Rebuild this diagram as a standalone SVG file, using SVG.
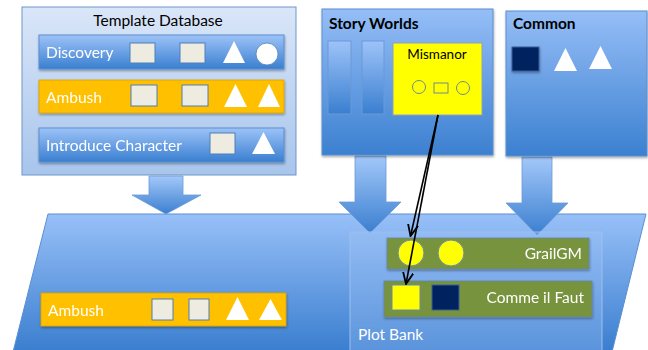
<svg xmlns="http://www.w3.org/2000/svg" width="648" height="350" viewBox="0 0 648 350">
<defs>
<linearGradient id="gBlue" x1="0" y1="0" x2="0" y2="1">
<stop offset="0" stop-color="#9dc3f8"/><stop offset="1" stop-color="#3a7fd0"/>
</linearGradient>
<linearGradient id="gBox" x1="0" y1="0" x2="0" y2="1">
<stop offset="0" stop-color="#95bef7"/><stop offset="1" stop-color="#3c80d0"/>
</linearGradient>
<linearGradient id="gLight" x1="0" y1="0" x2="0" y2="1">
<stop offset="0" stop-color="#dae6f8"/><stop offset="1" stop-color="#a8c5ec"/>
</linearGradient>
<linearGradient id="gBase" x1="0" y1="0" x2="0" y2="1">
<stop offset="0" stop-color="#98c0f8"/><stop offset="1" stop-color="#3a7ecf"/>
</linearGradient>
<linearGradient id="gArrow" x1="0" y1="0" x2="0" y2="1">
<stop offset="0" stop-color="#a3c8f9"/><stop offset="1" stop-color="#3b7fd0"/>
</linearGradient>
<filter id="sh" x="-10%" y="-10%" width="130%" height="140%">
<feDropShadow dx="0.5" dy="1.5" stdDeviation="1" flood-color="#000" flood-opacity="0.35"/>
</filter>
<marker id="ah" viewBox="0 0 10 10" refX="9" refY="5" markerWidth="8" markerHeight="8" orient="auto">
<path d="M0,1 L9,5 L0,9" fill="none" stroke="#000" stroke-width="1.4"/>
</marker>
</defs>
<style>
text{font-family:Lato,"Open Sans","Liberation Sans",sans-serif}
.w{fill:#fff;font-size:15.5px}
.k{fill:#000;font-size:15.5px}
.b{font-weight:bold}
.bar{fill:url(#gBlue);stroke:#5b8fd0;stroke-width:1}
.org{fill:#ffc000;stroke:#d9a400;stroke-width:0.8}
.sq{fill:#eeebe1;stroke:#4f7fb8;stroke-width:1}
.tri{fill:#fff}
.grn{fill:#77933c;stroke:#6a86a8;stroke-width:0.8}
.blk{fill:url(#gArrow);stroke:#6d9ad6;stroke-width:0.8}
.navy{fill:#00205f;stroke:#3a5f9a;stroke-width:1}
.yel{fill:#ffff00;stroke:#6a8ab0;stroke-width:1}
.conn{stroke:#000;stroke-width:1.6;fill:none;marker-end:url(#ah)}
</style>

<g id="plotBase">
<polygon points="48,214 646,214 612,352 13,352" fill="url(#gBase)" stroke="#5b8fd0" stroke-width="1"/>
</g>

<g id="arrows-block">
<path class="blk" d="M149,176 H183 V195 H201 L166,214 L132,195 H149 Z"/>
<path class="blk" d="M355,156 H386 V202 H401 L370,233 L339,202 H355 Z"/>
<path class="blk" d="M522,157 H552 V203 H568 L537,235 L506,203 H522 Z"/>
</g>

<g id="templateDatabase">
<rect x="22" y="7" width="274" height="168" fill="url(#gLight)" stroke="#6f95c8" stroke-width="1"/>
<text class="k" x="158" y="26" text-anchor="middle">Template Database</text>
</g>

<g id="discovery" filter="url(#sh)">
<rect class="bar" x="39" y="35" width="245" height="34"/>
<text class="w" x="46" y="58">Discovery</text>
<rect class="sq" x="130" y="43" width="25" height="20"/>
<rect class="sq" x="180" y="43" width="25" height="20"/>
<polygon class="tri" points="234,41 245,63 223,63"/>
<circle cx="267" cy="54" r="11" fill="#fff" stroke="#4f7fb8" stroke-width="0.8"/>
</g>

<g id="ambushTemplate" filter="url(#sh)">
<rect class="org" x="39" y="80" width="245" height="33"/>
<text class="w" x="46" y="103">Ambush</text>
<rect class="sq" x="131" y="85" width="26" height="21"/>
<rect class="sq" x="182" y="85" width="26" height="21"/>
<polygon class="tri" points="235.5,84 247,107 224,107"/>
<polygon class="tri" points="269,84 280,107 258,107"/>
</g>

<g id="introduceCharacter" filter="url(#sh)">
<rect class="bar" x="39" y="128" width="245" height="34"/>
<text class="w" x="46" y="151">Introduce Character</text>
<rect class="sq" x="210" y="133" width="25" height="21"/>
<polygon class="tri" points="263.5,132 275,154 252,154"/>
</g>

<g id="storyWorlds">
<rect x="322" y="9" width="171" height="146" fill="url(#gBox)" stroke="#5b8fd0" stroke-width="1" filter="url(#sh)"/>
<text class="k b" x="329" y="29">Story Worlds</text>
<rect x="328" y="41" width="23" height="73" fill="url(#gBlue)" stroke="#6b9ad6" stroke-width="1"/>
<rect x="362" y="41" width="22" height="73" fill="url(#gBlue)" stroke="#6b9ad6" stroke-width="1"/>
</g>

<g id="mismanor">
<rect x="393" y="43" width="89" height="72" fill="#ffff00" stroke="#8aa0c0" stroke-width="1"/>
<text x="437" y="59" text-anchor="middle" font-size="13.5" fill="#000">Mismanor</text>
<circle cx="419" cy="87" r="6.5" fill="#ffff00" stroke="#6f8a90" stroke-width="1"/>
<rect x="434" y="83" width="14" height="10" fill="#ffff00" stroke="#6f8a90" stroke-width="1"/>
<circle cx="463" cy="88" r="6.5" fill="#ffff00" stroke="#6f8a90" stroke-width="1"/>
</g>

<g id="common">
<rect x="506" y="11" width="141" height="145" fill="url(#gBox)" stroke="#5b8fd0" stroke-width="1" filter="url(#sh)"/>
<text class="k b" x="513" y="29">Common</text>
<rect class="navy" x="512" y="47" width="27" height="24" filter="url(#sh)"/>
<polygon class="tri" points="565.5,48 577,71 554,71"/>
<polygon class="tri" points="600.5,46 612,69 589,69"/>
</g>

<g id="plotBank">
<rect x="350" y="232" width="252" height="125" fill="#a4c8f8" fill-opacity="0.3" stroke="#9cc0f0" stroke-width="1"/>
<text class="w" x="358" y="340">Plot Bank</text>
</g>

<g id="grailGM" filter="url(#sh)">
<rect class="grn" x="387" y="238" width="202" height="31"/>
<circle cx="411" cy="253" r="13" class="yel"/>
<circle cx="451" cy="253" r="13" class="yel"/>
<text class="w" x="582" y="259" text-anchor="end">GrailGM</text>
</g>

<g id="commeIlFaut" filter="url(#sh)">
<rect class="grn" x="384" y="281" width="208" height="36"/>
<rect class="yel" x="392" y="285" width="28" height="25"/>
<rect class="navy" x="432" y="285" width="27" height="25"/>
<text class="w" x="584" y="303" text-anchor="end">Comme il Faut</text>
</g>

<g id="ambushPlot" filter="url(#sh)">
<rect class="org" x="41" y="293" width="245" height="33"/>
<text class="w" x="48" y="316">Ambush</text>
<rect class="sq" x="152" y="299" width="21" height="21"/>
<rect class="sq" x="189" y="299" width="20" height="21"/>
<polygon class="tri" points="237.5,297 249,320 226,320"/>
<polygon class="tri" points="270.5,299 282,320 259,320"/>
</g>

<g id="connectors">
<line class="conn" x1="438" y1="115" x2="410.5" y2="236"/>
<line class="conn" x1="438" y1="115" x2="406" y2="284"/>
</g>
</svg>
